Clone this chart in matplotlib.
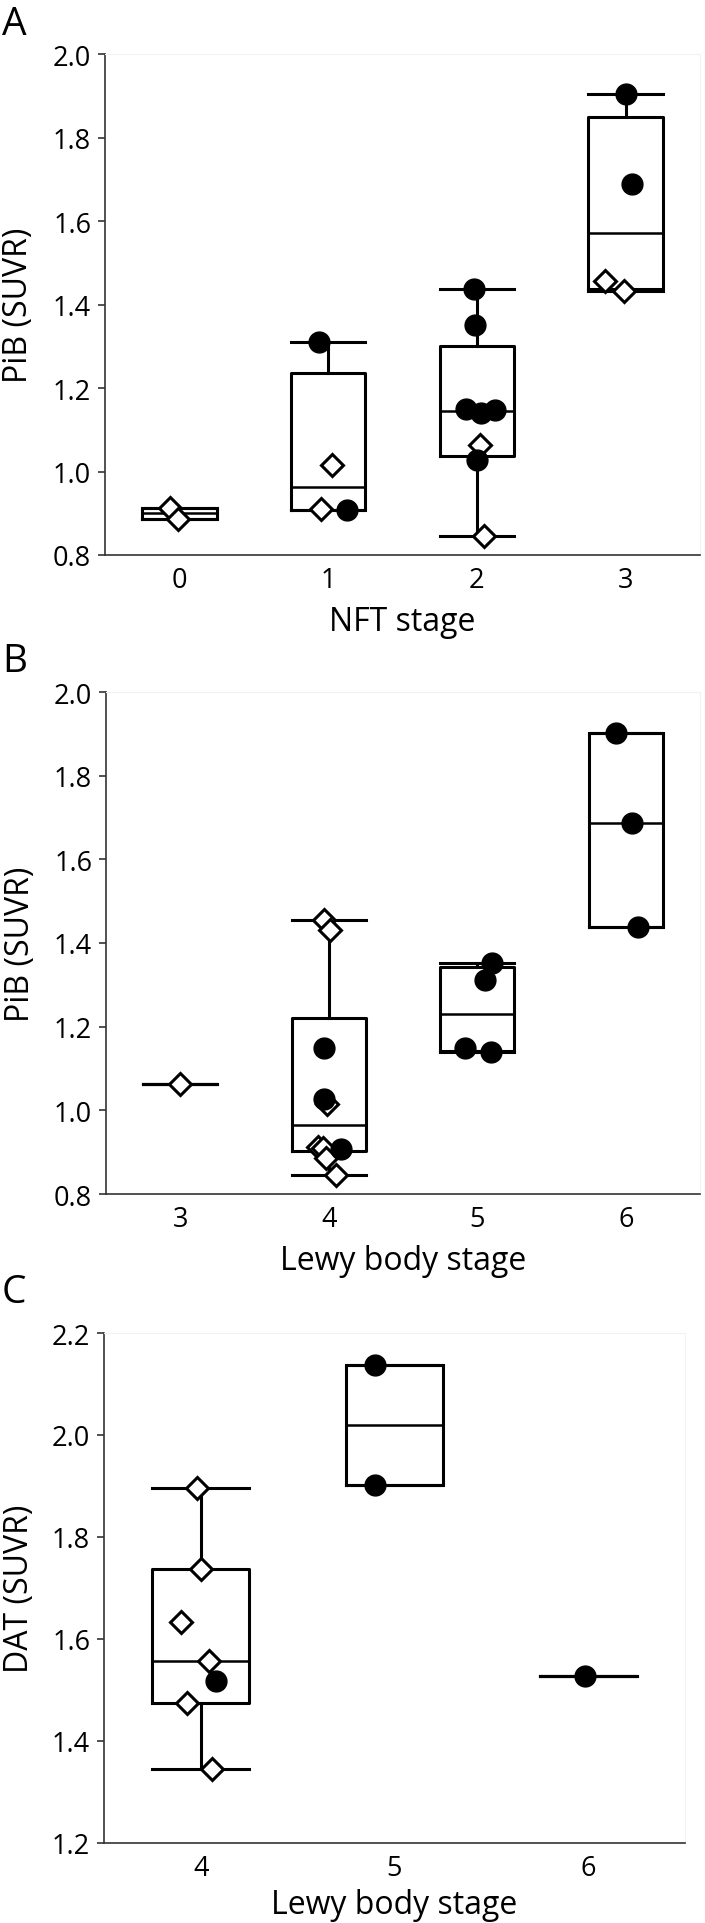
import numpy as np
import matplotlib.pyplot as plt

plt.rcParams['font.family'] = ['Open Sans', 'DejaVu Sans']

# Panel A: PiB SUVR by NFT stage
nft_stages = [0, 1, 2, 3]
nft_filled = [[], [1.311, 0.907], [1.4375, 1.352, 1.150, 1.140, 1.148, 1.028], [1.903, 1.688]]
nft_open = [[0.913, 0.887], [1.015, 0.909], [1.063, 0.845], [1.456, 1.432]]
nft_filled_dx = [[], [-0.06, 0.13], [-0.02, -0.01, -0.07, 0.03, 0.12, 0.0], [0.0, 0.045]]
nft_open_dx = [[-0.06, -0.01], [0.025, -0.05], [0.02, 0.05], [-0.14, -0.01]]

# Panel B: PiB SUVR by Lewy body stage
lb_stages = [3, 4, 5, 6]
lb_pib_filled = [[], [1.150, 1.028, 0.907], [1.352, 1.311, 1.150, 1.140], [1.903, 1.688, 1.4375]]
lb_pib_open = [[1.063], [1.455, 1.432, 1.015, 0.913, 0.909, 0.887, 0.845], [], []]
lb_pib_filled_dx = [[], [-0.035, -0.03, 0.08], [0.1, 0.055, -0.08, 0.09], [-0.066, 0.04, 0.08]]
lb_pib_open_dx = [[0.0], [-0.03, 0.01, -0.01, -0.075, -0.04, -0.02, 0.05], [], []]

# Panel C: DAT SUVR by Lewy body stage
dat_stages = [4, 5, 6]
dat_filled = [[1.518], [2.138, 1.901], [1.528]]
dat_open = [[1.897, 1.738, 1.633, 1.556, 1.474, 1.346], [], []]
dat_filled_dx = [[0.08], [-0.1, -0.1], [-0.015]]
dat_open_dx = [[-0.02, 0.0, -0.1, 0.04, -0.07, 0.06], [], []]

W, H = 705, 1924


def box_stats(vals):
    v = np.sort(np.asarray(vals, dtype=float))
    q1, med, q3 = np.percentile(v, [25, 50, 75], method='weibull')
    return dict(med=med, q1=q1, q3=q3, whislo=v.min(), whishi=v.max(), fliers=[])


def panel(fig, rect, stages, filled, opened, filled_dx, open_dx, ylim, xlabel, ylabel,
          letter, letter_y, xpad=8):
    l, t, r, b = rect
    ax = fig.add_axes([l / W, 1 - b / H, (r - l) / W, (b - t) / H])
    stats = [box_stats(f + o) for f, o in zip(filled, opened)]
    line = dict(color='black', linewidth=2.2)
    ax.bxp(stats, positions=stages, widths=0.5, capwidths=0.5, showfliers=False,
           boxprops=line, whiskerprops=line, capprops=line,
           medianprops=dict(color='black', linewidth=1.8))
    for s, f, dx in zip(stages, filled, filled_dx):
        if f:
            ax.plot(np.array(dx) + s, f, 'o', ms=15, color='black', mec='black', zorder=4)
    for s, o, dx in zip(stages, opened, open_dx):
        if o:
            ax.plot(np.array(dx) + s, o, 'D', ms=11, mfc='white', mec='black', mew=2.2, zorder=3)

    ax.set_xlim(stages[0] - 0.5, stages[-1] + 0.5)
    ax.set_ylim(*ylim)
    ax.set_yticks(np.arange(ylim[0], ylim[1] + 0.01, 0.2))
    ax.yaxis.set_major_formatter(plt.FormatStrFormatter('%.1f'))
    ax.set_xticks(stages)
    for side in ['top', 'right']:
        ax.spines[side].set_color('#f2f2f2')
        ax.spines[side].set_linewidth(0.8)
    for side in ['left', 'bottom']:
        ax.spines[side].set_color('#333333')
        ax.spines[side].set_linewidth(1.2)
    ax.tick_params(axis='y', length=5, width=1.2, color='#333333', labelsize=19.5, pad=5)
    ax.tick_params(axis='x', length=0, labelsize=19.5, pad=8)
    ax.set_xlabel(xlabel, fontsize=23, labelpad=xpad)
    ax.set_ylabel(ylabel, fontsize=23)
    ax.yaxis.set_label_coords(-0.117, 0.5)
    fig.text(2 / W, 1 - letter_y / H, letter, fontsize=28, va='baseline', ha='left')
    return ax


fig = plt.figure(figsize=(W / 100, H / 100), dpi=100)

panel(fig, (105, 55, 700, 556), nft_stages, nft_filled, nft_open, nft_filled_dx, nft_open_dx,
      (0.8, 2.0), 'NFT stage', 'PiB (SUVR)', 'A', 35)
panel(fig, (106, 693, 700, 1195), lb_stages, lb_pib_filled, lb_pib_open, lb_pib_filled_dx, lb_pib_open_dx,
      (0.8, 2.0), 'Lewy body stage', 'PiB (SUVR)', 'B', 672)
panel(fig, (104, 1334, 685, 1844), dat_stages, dat_filled, dat_open, dat_filled_dx, dat_open_dx,
      (1.2, 2.2), 'Lewy body stage', 'DAT (SUVR)', 'C', 1303, xpad=4)

fig.savefig('out.png', dpi=100)
